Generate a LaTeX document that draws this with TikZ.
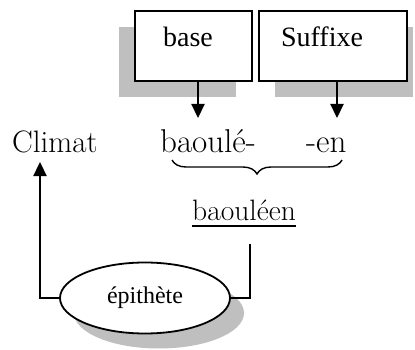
\documentclass[tikz,border=0pt]{standalone}
\usepackage{fontspec}
\newfontfamily\tnr{Liberation Serif}
\usetikzlibrary{shapes.geometric,arrows.meta,decorations.pathreplacing}
\tikzset{
  boxnode/.style={draw,line width=1.8pt,fill=white,inner sep=0},
  arr/.style={line width=2.2pt,-{Triangle[length=14pt,width=13pt]}},
  ln/.style={line width=2.2pt},
  word/.style={inner sep=0,anchor=base west},
}
\begin{document}
\begin{tikzpicture}[x=1pt,y=-1pt]
\useasboundingbox (0,0) rectangle (415,350);
% shadows
\fill[black!25] (119,27) rectangle (236,97);
\fill[black!25] (275,27) rectangle (413,97);
\fill[black!25] (159,313) ellipse [x radius=85, y radius=35.5];
% boxes
\node[boxnode,minimum width=117pt,minimum height=70pt] (base) at (193.5,46) {};
\node[boxnode,minimum width=148pt,minimum height=70pt] (suf) at (333,46) {};
\node[inner sep=0,anchor=base] (tbase) at (188,47) {\tnr\fontsize{28}{32}\selectfont base};
\node[inner sep=0,anchor=base] (tsuf) at (322,47) {\tnr\fontsize{28}{32}\selectfont Suffixe};
% words
\node[word] (climat) at (12,153) {\fontsize{31}{36}\selectfont Climat};
\node[word] (b1) at (160,153) {\fontsize{33}{38}\selectfont baoulé-};
\node[word] (en) at (306,153) {\fontsize{33}{38}\selectfont -en};
\node[word] (bn) at (192,220) {\fontsize{29.5}{34}\selectfont baouléen};
\draw[line width=2pt] ([yshift=-6pt]bn.base west) -- ([yshift=-6pt]bn.base east);
% arrows from boxes
\coordinate (t1) at (198,118);
\coordinate (t2) at (337,118);
\draw[arr] (base.south -| t1) -- (t1);
\draw[arr] (suf.south -| t2) -- (t2);
% brace
\coordinate (br1) at (172,160);
\coordinate (br2) at (342,160);
\draw[line width=1.4pt,decorate,decoration={brace,mirror,amplitude=14pt,aspect=0.5}] (br1) -- (br2);
% ellipse
\node[ellipse,draw,line width=1.8pt,fill=white,minimum width=170pt,minimum height=71pt,inner sep=0] (ep) at (145,298) {\tnr\fontsize{24}{28}\selectfont épithète};
% connectors
\coordinate (c1) at (40,162);
\coordinate (c2) at (250,244);
\draw[arr] (ep.west) -| (c1);
\draw[ln] (ep.east) -| (c2);
\end{tikzpicture}
\end{document}
